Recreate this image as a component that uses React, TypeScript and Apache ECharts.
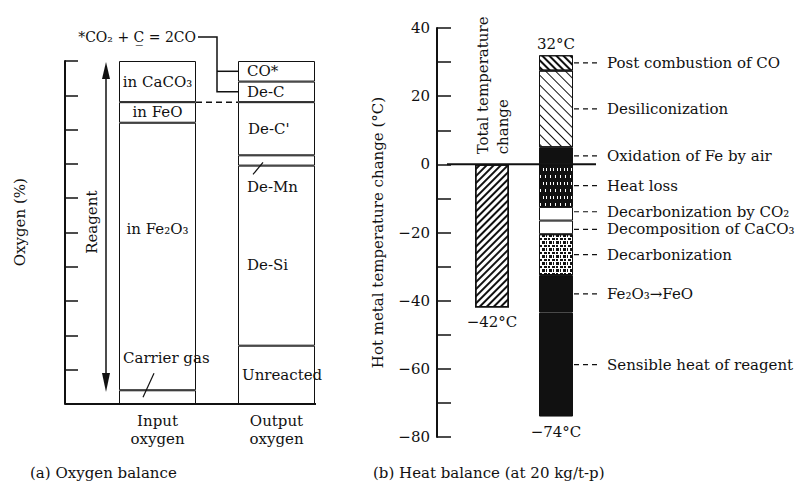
import React, { useEffect, useRef } from 'react';
import * as echarts from 'echarts';

// ---- Data: (a) Oxygen balance, % of oxygen ----
const balanceCategories = ['Input\noxygen', 'Output\noxygen'];
const inputLabels = ['Carrier gas', 'in Fe₂O₃', 'in FeO', 'in CaCO₃'];
const inputValues = [4, 78, 6, 12];
const outputLabels = ['Unreacted', 'De-Si', 'De-Mn', "De-C'", 'De-C', 'CO*'];
const outputValues = [17, 52.5, 3, 15.5, 6, 6];

// ---- Data: (b) Heat balance, °C ----
const heatCategories = ['Total temperature change', 'Components'];
const heatLabels = [
  'Oxidation of Fe by air',
  'Desiliconization',
  'Post combustion of CO',
  'Heat loss',
  'Decarbonization by CO₂',
  'Decomposition of CaCO₃',
  'Decarbonization',
  'Fe₂O₃→FeO',
  'Sensible heat of reagent',
];
const heatValues = [5, 22.5, 4.5, -12.5, -4, -4, -12, -11, -30.5];
const heatTickLabels = [-80, -60, -40, -20, 0, 20, 40];

const FONT = '"DejaVu Serif", "Liberation Serif", serif';
const INK = '#111';

const stripes = (period: number, thick: number, rot: number) => ({
  symbol: 'rect',
  symbolSize: 1,
  color: INK,
  backgroundColor: '#fff',
  dashArrayX: [1, 0],
  dashArrayY: [thick, period - thick],
  rotation: rot,
});

const heatStyles: any[] = [
  { color: INK },
  { color: '#fff', decal: stripes(7, 1, Math.PI / 4) },
  { color: '#fff', decal: stripes(4, 1.3, Math.PI / 4) },
  { color: INK, decal: { symbol: 'rect', symbolSize: 1, color: '#fff', dashArrayX: [[1, 4], [1, 3, 1, 2]], dashArrayY: [3, 4] } },
  { color: '#fff' },
  { color: '#fff' },
  { color: '#fff', decal: { symbol: 'rect', symbolSize: 1, color: INK, dashArrayX: [[3, 1, 2, 2], [1, 2, 3, 1]], dashArrayY: [2, 1, 3, 1] } },
  { color: INK },
  { color: INK },
];
const heatLabelShift = [0, 0, 0, 0, -2, 2, 0, 0, 0];

const inputLabelPos: any[] = [
  { position: 'insideLeft', distance: 4, offset: [0, -39] },
  { position: 'inside', offset: [0, -28] },
  { position: 'inside' },
  { position: 'inside' },
];
const outputLabelPos: any[] = [
  { position: 'insideLeft', distance: 4 },
  { position: 'insideLeft', distance: 9, offset: [0, 9] },
  { position: 'insideLeft', distance: 9, offset: [0, 27] },
  { position: 'insideLeft', distance: 10 },
  { position: 'insideLeft', distance: 9 },
  { position: 'insideLeft', distance: 9 },
];

const fmtTick = (v: number) => (v < 0 ? '−' + Math.abs(v) : String(v));

export default function App() {
  const ref = useRef<HTMLDivElement>(null);
  useEffect(() => {
    const chart = echarts.init(ref.current!, null, { renderer: 'svg' });
    const barA = 77;
    const barB = 34;
    const gridA = { left: 98, top: 61, width: 238, height: 343 };
    const offA = 33;
    const gridB = { left: 460, top: 28, width: 128, height: 409 };
    const offB = 23;
    const txt = { fontFamily: FONT, fontSize: 15, color: INK };

    const series: any[] = [];
    inputLabels.forEach((name, i) => {
      series.push({
        type: 'bar', name, stack: 'a', xAxisIndex: 0, yAxisIndex: 0, barWidth: barA,
        data: [inputValues[i], '-'],
        itemStyle: { color: '#fff', borderColor: INK, borderWidth: 1 },
        label: { show: true, ...inputLabelPos[i], formatter: () => name, ...txt },
      });
    });
    outputLabels.forEach((name, i) => {
      series.push({
        type: 'bar', name, stack: 'a', xAxisIndex: 0, yAxisIndex: 0, barWidth: barA,
        data: ['-', outputValues[i]],
        itemStyle: { color: '#fff', borderColor: INK, borderWidth: 1 },
        label: { show: true, ...outputLabelPos[i], formatter: () => name, ...txt },
      });
    });
    const total = heatValues.reduce((s, v) => s + v, 0);
    series.push({
      type: 'bar', name: heatCategories[0], stack: 'b', xAxisIndex: 1, yAxisIndex: 1, barWidth: barB,
      data: [total, '-'],
      itemStyle: { color: '#fff', borderColor: INK, borderWidth: 1.5, decal: stripes(5, 2, -Math.PI / 4) },
    });
    heatLabels.forEach((name, i) => {
      series.push({
        type: 'bar', name, stack: 'b', xAxisIndex: 1, yAxisIndex: 1, barWidth: barB,
        data: ['-', heatValues[i]],
        itemStyle: { borderColor: INK, borderWidth: 1, ...heatStyles[i] },
        label: { show: true, position: 'right', distance: 34, offset: [0, heatLabelShift[i]], formatter: () => name, ...txt },
      });
    });

    chart.setOption({
      animation: false,
      backgroundColor: '#fff',
      grid: [
        { ...gridA, containLabel: false },
        { ...gridB, containLabel: false },
      ],
      xAxis: [
        {
          type: 'category', gridIndex: 0, data: balanceCategories,
          axisLine: { show: false }, axisTick: { show: false },
          axisLabel: { ...txt, lineHeight: 18, margin: 8 },
        },
        {
          type: 'category', gridIndex: 1, data: heatCategories,
          axisLine: { show: false }, axisTick: { show: false }, axisLabel: { show: false },
        },
      ],
      yAxis: [
        {
          type: 'value', gridIndex: 0, min: 0, max: 100, interval: 10, offset: offA,
          axisLine: { show: true, lineStyle: { color: INK, width: 2 } },
          axisTick: { show: true, inside: true, length: 13, lineStyle: { color: INK, width: 1.5 } },
          axisLabel: { show: false }, splitLine: { show: false },
        },
        {
          type: 'value', gridIndex: 1, min: -80, max: 40, interval: 10, offset: offB,
          name: 'Hot metal temperature change (°C)', nameLocation: 'middle', nameRotate: 90, nameGap: 52,
          nameTextStyle: { ...txt },
          axisLine: { show: true, lineStyle: { color: INK, width: 2 } },
          axisTick: { show: true, inside: true, length: 14, lineStyle: { color: INK, width: 1.5 } },
          axisLabel: { ...txt, margin: 7, formatter: (v: number) => (heatTickLabels.includes(v) ? fmtTick(v) : '') },
          splitLine: { show: false },
        },
      ],
      series,
    });

    // ---- Annotations computed from the axes ----
    const pA = (i: number, v: number) => chart.convertToPixel({ xAxisIndex: 0, yAxisIndex: 0 }, [i, v]) as number[];
    const pB = (i: number, v: number) => chart.convertToPixel({ xAxisIndex: 1, yAxisIndex: 1 }, [i, v]) as number[];
    const [xIn, yBase] = pA(0, 0);
    const [xOut] = pA(1, 0);
    const yTop = pA(0, 100)[1];
    const inL = xIn - barA / 2, inR = xIn + barA / 2;
    const outL = xOut - barA / 2, outR = xOut + barA / 2;
    const axisAX = gridA.left - offA;
    const cum = (arr: number[], n: number) => arr.slice(0, n).reduce((s, v) => s + v, 0);
    const midOut = (k: number) => pA(1, cum(outputValues, k) + outputValues[k] / 2)[1];
    const yDash = pA(0, cum(inputValues, 3))[1];
    const xMid = (inR + outL) / 2;
    const yText = yTop - 24;
    const yCO = midOut(5), yDeC = midOut(4), yMn = midOut(2);
    const yCarrier = pA(0, inputValues[0] / 2)[1];
    const arrowX = inL - 13;
    const arrowBot = pA(0, 3.5)[1];
    const ln = (x1: number, y1: number, x2: number, y2: number, w = 1.5, dash?: number[]) => ({
      type: 'line', shape: { x1, y1, x2, y2 }, style: { stroke: INK, lineWidth: w, lineDash: dash }, z: 100,
    });
    const tx = (x: number, y: number, text: string, extra: any = {}) => ({
      type: 'text', x, y, z: 100,
      style: { text, fill: INK, font: `15px ${FONT}`, align: 'left', verticalAlign: 'middle', ...extra },
    });

    const [xT, y0] = pB(0, 0);
    const [xS] = pB(1, 0);
    const axisBX = gridB.left - offB;
    const sRight = xS + barB / 2;
    const heatDashes: any[] = [];
    let pos = 0, neg = 0;
    heatValues.forEach((v, i) => {
      let mid;
      if (v >= 0) { mid = pos + v / 2; pos += v; } else { mid = neg + v / 2; neg += v; }
      const y = pB(1, mid)[1] + heatLabelShift[i];
      heatDashes.push(ln(sRight + 1, y, sRight + 24, y, 1.2, [5, 4]));
    });

    chart.setOption({
      graphic: [
        // (a)
        ln(axisAX, yBase, outR + 1, yBase, 2),
        ln(inR, yDash, outL, yDash, 1.5, [6, 4]),
        { type: 'polyline', z: 100, shape: { points: [[inR + 2, yText], [xMid, yText], [xMid, yDeC], [outL, yDeC]] }, style: { stroke: INK, lineWidth: 1.5, fill: null } },
        ln(xMid, yCO, outL, yCO),
        tx(inR, yText, '*CO₂ + C̲ = 2CO', { align: 'right', font: `14px ${FONT}` }),
        ln(arrowX, yTop + 12, arrowX, arrowBot - 12, 1.5),
        { type: 'polygon', z: 100, shape: { points: [[arrowX, yTop + 1], [arrowX - 4, yTop + 18], [arrowX + 4, yTop + 18]] }, style: { fill: INK } },
        { type: 'polygon', z: 100, shape: { points: [[arrowX, arrowBot], [arrowX - 4, arrowBot - 19], [arrowX + 4, arrowBot - 19]] }, style: { fill: INK } },
        { ...tx(arrowX - 14, pA(0, 53)[1], 'Reagent', { align: 'center' }), rotation: Math.PI / 2 },
        { ...tx(axisAX - 45, pA(0, 53)[1], 'Oxygen (%)', { align: 'center' }), rotation: Math.PI / 2 },
        ln(inL + 24, yCarrier, inL + 35, yCarrier - 24, 1.2),
        ln(outL + 25, yMn + 2, outL + 15, yMn + 14, 1.2),
        tx(30, 473, '(a) Oxygen balance'),
        // (b)
        ln(axisBX + 10, y0, sRight + 23, y0, 2),
        ...heatDashes,
        tx(xS, pB(1, pos)[1] - 11, pos + '°C', { align: 'center' }),
        tx(xS, pB(1, neg)[1] + 15, fmtTick(neg) + '°C', { align: 'center' }),
        tx(xT, pB(0, total)[1] + 15, fmtTick(total) + '°C', { align: 'center' }),
        { ...tx(xT + 1, y0 - 10, 'Total temperature\nchange', { align: 'left', lineHeight: 20 }), rotation: Math.PI / 2 },
        tx(373, 473, '(b) Heat balance (at 20 kg/t-p)'),
      ],
    });

    return () => chart.dispose();
  }, []);
  return (
    <div
      ref={ref}
      style={{ position: 'fixed', left: 0, top: 0, width: 804, height: 485, background: '#fff' }}
    />
  );
}
